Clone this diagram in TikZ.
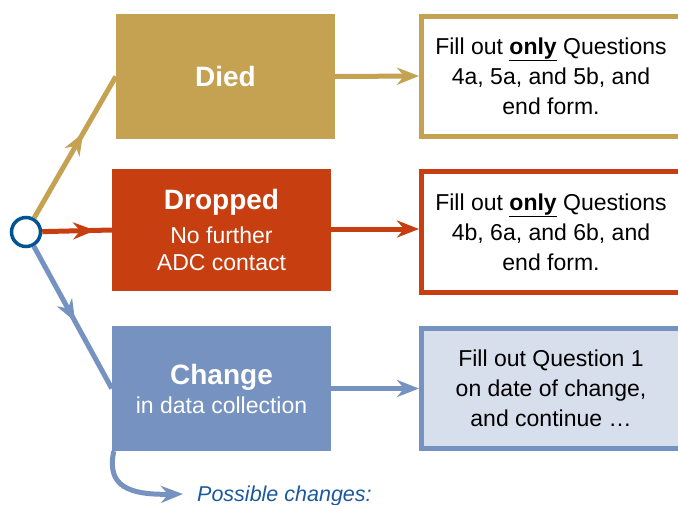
\documentclass[tikz,border=0pt]{standalone}
\usepackage{fontspec}
\setmainfont{Liberation Sans}
\usetikzlibrary{arrows.meta,decorations.markings}
\definecolor{diedC}{RGB}{196,162,82}
\definecolor{dropC}{RGB}{199,62,16}
\definecolor{chgC}{RGB}{118,146,192}
\definecolor{chgL}{RGB}{216,223,236}
\definecolor{startC}{RGB}{0,84,150}
\definecolor{noteC}{RGB}{28,88,160}

\begin{document}
\begin{tikzpicture}[x=1pt,y=-1pt,>={Stealth[length=22pt,width=17pt,inset=7pt]},
  catbox/.style={minimum width=219pt,inner sep=0pt,align=center,text=white,
    font=\fontsize{23}{30}\selectfont},
  formbox/.style={draw,line width=5pt,fill=white,minimum width=259pt,inner sep=0pt,
    align=center,font=\fontsize{23}{30}\selectfont},
  link/.style={line width=5pt},
  midarrow/.style={postaction={decorate},decoration={markings,
    mark=at position #1 with {\arrow{>}}}}]
\useasboundingbox (0,0) rectangle (678,504);
\clip (0,0) rectangle (678,504);
% start point and the three outcomes
\node[circle,draw=startC,line width=3.5pt,fill=white,minimum size=29pt,inner sep=0pt] (start) at (26,232) {};
\node[catbox,fill=diedC,minimum height=125pt] (died) at (225.5,76.5)
  {\fontsize{28}{30}\selectfont\bfseries Died};
\node[catbox,fill=dropC,minimum height=122pt] (drop) at (221.5,230)
  {{\fontsize{28}{30}\selectfont\bfseries Dropped}\\[4pt]No further\\[-3pt]ADC contact};
\node[catbox,fill=chgC,minimum height=125pt] (chg) at (221.5,388.5)
  {{\fontsize{28}{30}\selectfont\bfseries Change}\\[-1pt]in data collection};
% what to fill out
\node[formbox,draw=diedC,minimum height=120pt] (diedF) at (551,76)
  {Fill out \textbf{\underline{only}} Questions\\4a, 5a, and 5b, and\\end form.};
\node[formbox,draw=dropC,minimum height=121pt] (dropF) at (551,232)
  {Fill out \textbf{\underline{only}} Questions\\4b, 6a, and 6b, and\\end form.};
\node[formbox,draw=chgC,fill=chgL,minimum height=120pt] (chgF) at (551,388.5)
  {Fill out Question 1\\on date of change,\\and continue \dots};
% connectors
\draw[link,diedC,midarrow=0.6] (start) -- (died.west);
\draw[link,dropC,midarrow=0.76] (start) -- (drop.west);
\draw[link,chgC,midarrow=0.53] (start) -- (chg.west);
\draw[link,diedC,->] (died.east) -- (diedF.west);
\draw[link,dropC,->] (drop.east |- 0,229) -- (dropF.west |- 0,229);
\draw[link,chgC,->] (chg.east) -- (chgF.west);
\coordinate (note) at (183,494);
\draw[link,chgC,->] ([xshift=2pt]chg.south west) .. controls (106,487) and (130,495) .. (note);
\node[anchor=base west,text=noteC,font=\fontsize{21.5}{26}\selectfont\itshape,inner sep=0pt] (noteT) at (197,501) {Possible changes:};
\end{tikzpicture}
\end{document}
